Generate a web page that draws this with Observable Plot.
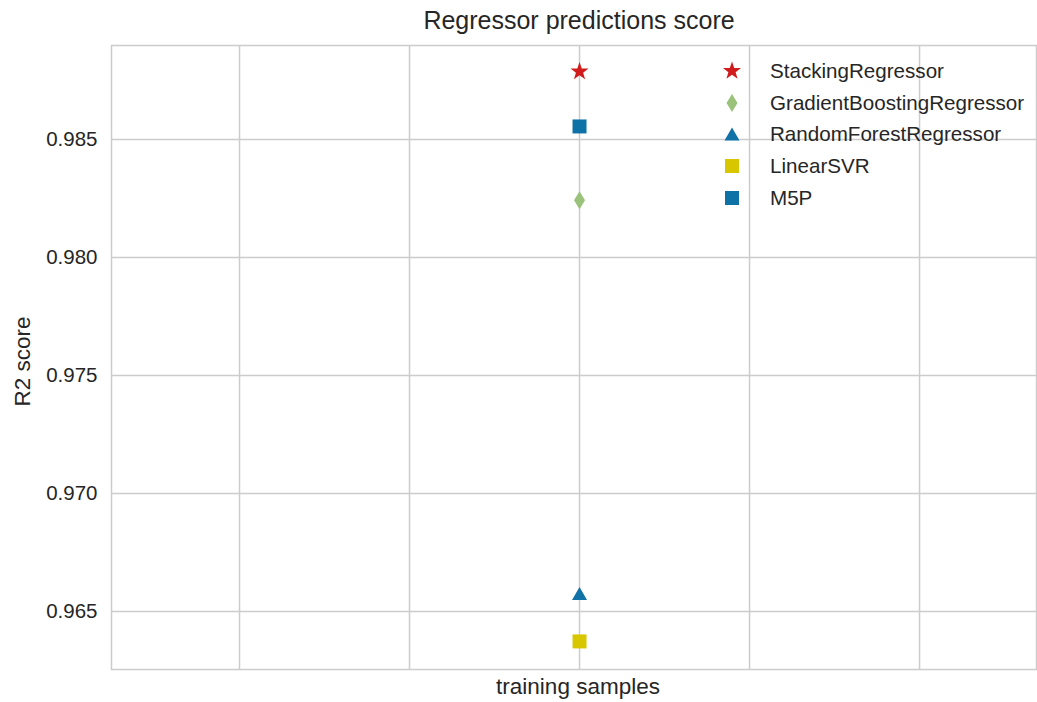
<!DOCTYPE html>
<html>
<head>
<meta charset="utf-8">
<script src="https://cdn.jsdelivr.net/npm/d3@7"></script>
<script src="https://cdn.jsdelivr.net/npm/@observablehq/plot@0.6"></script>
<style>
  html, body { margin: 0; padding: 0; background: #fff; }
  #wrap { position: relative; width: 1037px; height: 702px; font-family: "Liberation Sans", Arial, sans-serif; color: #262626; }
  #title { position: absolute; left: 279px; width: 600px; top: 6px; text-align: center; font-size: 25px; color: #262626; }
  #legend { position: absolute; left: 716px; top: 55px; font-size: 20.6px; color: #262626; }
  .row { height: 31.8px; display: flex; align-items: center; }
  .row svg { width: 32px; height: 32px; margin-right: 22px; }
</style>
</head>
<body>
<div id="wrap">
  <div id="chart"></div>
  <div id="title">Regressor predictions score</div>
  <div id="legend"></div>
</div>
<script>
const models = ["StackingRegressor", "GradientBoostingRegressor", "RandomForestRegressor", "LinearSVR", "M5P"];
const scores = [0.98788, 0.98242, 0.96572, 0.96373, 0.98555];
const colors = ["#d01c1c", "#9ac27b", "#1172a8", "#d8c600", "#0f72a6"];
const markerNames = ["star", "thin_diamond", "triangle", "square", "square"];
const trainingSamples = [0, 0, 0, 0, 0];
const yTicks = [0.965, 0.970, 0.975, 0.980, 0.985];
const xGrid = [-2, -1, 0, 1, 2];

const shapes = {
  star: { draw(ctx) {
    const R = 9.5, r = 3.8;
    for (let i = 0; i < 10; i++) {
      const a = -Math.PI / 2 + i * Math.PI / 5, rr = i % 2 ? r : R;
      const px = rr * Math.cos(a), py = rr * Math.sin(a);
      if (i) ctx.lineTo(px, py); else ctx.moveTo(px, py);
    }
    ctx.closePath();
  }},
  thin_diamond: { draw(ctx) {
    ctx.moveTo(0, -9); ctx.lineTo(5.5, 0); ctx.lineTo(0, 9); ctx.lineTo(-5.5, 0); ctx.closePath();
  }},
  triangle: { draw(ctx) {
    ctx.moveTo(0, -7.5); ctx.lineTo(7.5, 5.5); ctx.lineTo(-7.5, 5.5); ctx.closePath();
  }},
  square: { draw(ctx) {
    ctx.rect(-7, -7, 14, 14);
  }}
};

const data = models.map((m, i) => ({ model: m, score: scores[i], x: trainingSamples[i], marker: markerNames[i] }));
const uniqueMarkers = markerNames.filter((v, i, a) => a.indexOf(v) === i);

const chart = Plot.plot({
  width: 1037,
  height: 702,
  marginTop: 45,
  marginBottom: 33,
  marginLeft: 111,
  marginRight: 1,
  style: { fontFamily: "Liberation Sans, Arial, sans-serif", fontSize: "20.5px", color: "#262626", background: "#fff" },
  x: { domain: [-2.753, 2.688], axis: null },
  y: { domain: [0.96254, 0.98898], axis: null },
  color: { domain: models, range: colors },
  symbol: { domain: uniqueMarkers, range: uniqueMarkers.map(k => shapes[k]) },
  marks: [
    Plot.gridX(xGrid, { stroke: "#cccccc", strokeOpacity: 1, strokeWidth: 1.5 }),
    Plot.gridY(yTicks, { stroke: "#cccccc", strokeOpacity: 1, strokeWidth: 1.5 }),
    Plot.frame({ stroke: "#cccccc", strokeWidth: 1.5 }),
    Plot.axisY(yTicks, { tickSize: 0, tickPadding: 14, tickFormat: d3.format(".3f"), fontSize: 20.5, label: null }),
    Plot.text(["R2 score"], { frameAnchor: "left", textAnchor: "middle", rotate: -90, dx: -89, dy: 4, fontSize: 22.5, fill: "#262626" }),
    Plot.text(["training samples"], { frameAnchor: "bottom", textAnchor: "middle", dx: 4, dy: 24, fontSize: 22.5, fill: "#262626" }),
    Plot.dot(data, { x: "x", y: "score", symbol: "marker", fill: "model", stroke: "none", r: 4 })
  ]
});
document.getElementById("chart").appendChild(chart);

const legend = d3.select("#legend");
models.forEach((m, i) => {
  const row = legend.append("div").attr("class", "row");
  const svg = row.append("svg").attr("viewBox", "-16 -16 32 32");
  const p = d3.path();
  shapes[markerNames[i]].draw(p);
  svg.append("path").attr("d", p.toString()).attr("fill", colors[i]);
  row.append("span").text(m);
});
</script>
</body>
</html>
